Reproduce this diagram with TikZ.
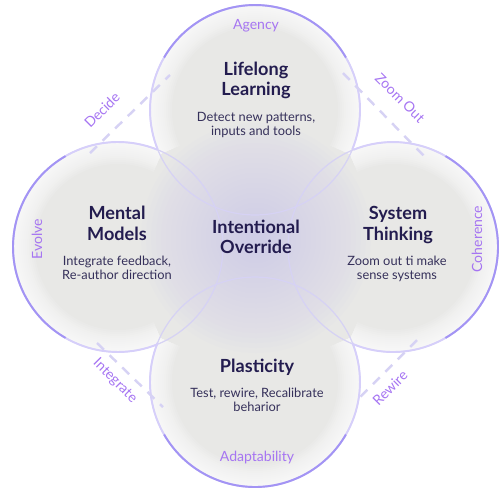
\documentclass[tikz,border=0pt]{standalone}
\usepackage{fontspec}
\setmainfont{Lato}
\usepackage{tikz}
\definecolor{titlecolor}{HTML}{231C4F}
\definecolor{textcolor}{HTML}{35305A}
\definecolor{cuecolor}{HTML}{A675F2}
\definecolor{rimcolor}{HTML}{A394F4}
\definecolor{softrim}{HTML}{D6D2F4}
\definecolor{discgray}{HTML}{E8E8E6}
\definecolor{glowcolor}{HTML}{CFCBEA}

\begin{document}
\begin{tikzpicture}[x=0.02cm, y=-0.02cm,
    lobe/.style={circle, minimum size=4.2cm, inner sep=0pt, outer sep=0pt, fill=discgray},
    rim/.style={draw=rimcolor, line width=1.1pt},
    softline/.style={draw=softrim, line width=0.7pt},
    bridge/.style={draw=softrim, line width=1.4pt, dash pattern=on 5.5pt off 4.5pt},
    heading/.style={font=\fontsize{10.3}{11.6}\selectfont\bfseries, text=titlecolor,
                    align=center, inner sep=0pt},
    blurb/.style={font=\fontsize{7.3}{8.2}\selectfont, text=textcolor,
                  align=center, inner sep=0pt},
    cue/.style={font=\fontsize{8}{9}\selectfont, text=cuecolor, inner sep=0pt}
]
\useasboundingbox (0,0) rectangle (500,495);

% the four lobes
\node[lobe] (learn) at (255,110) {};
\node[lobe] (model) at (118,247) {};
\node[lobe] (system) at (393,247) {};
\node[lobe] (plastic) at (255,382) {};
\fill[discgray] (256,238) circle[radius=1.2cm];

% light rims on the outside
\foreach \c/\a in {learn/90,model/180,system/0,plastic/270} {
    \begin{scope}
        \clip (\c.center) circle[radius=2.1cm];
        \foreach \w in {2,4,...,22}
            \draw[white, opacity=0.13, line width=\w*1.13pt] (\c.center) ++(\a-115:2.1cm)
                arc[start angle=\a-115, end angle=\a+115, radius=2.1cm];
    \end{scope}
}

% soft glow in the middle
\foreach \r in {10,15,...,115}
    \fill[glowcolor, opacity=0.05] (256,238) circle[radius=\r*0.02cm];

% outlines
\foreach \c in {learn,model,system,plastic}
    \draw[softline] (\c.center) circle[radius=2.1cm];
\foreach \c/\a in {learn/90,model/180,system/0,plastic/270} {
    \draw[rim, draw=rimcolor!45] (\c.center) ++(\a-112:2.1cm)
        arc[start angle=\a-112, end angle=\a+112, radius=2.1cm];
    \draw[rim] (\c.center) ++(\a-60:2.1cm)
        arc[start angle=\a-60, end angle=\a+60, radius=2.1cm];
}

% dashed bridges between lobes
\coordinate (decA) at (90,153);
\coordinate (decB) at (170,75);
\coordinate (zoomA) at (343,73);
\coordinate (zoomB) at (425,157);
\coordinate (intA) at (97,343);
\coordinate (intB) at (163,407);
\coordinate (rewA) at (417,340);
\coordinate (rewB) at (355,402);
\draw[bridge] (decA) -- (decB);
\draw[bridge] (zoomA) -- (zoomB);
\draw[bridge] (intA) -- (intB);
\draw[bridge] (rewA) -- (rewB);

% texts
\node[heading] (learnT) at (256,80.5) {Lifelong\\Learning};
\node[blurb] (learnD) at (256,124.7) {Detect new patterns,\\inputs and tools};
\node[heading] (modelT) at (117,223.3) {Mental\\Models};
\node[blurb] (modelD) at (117,268) {Integrate feedback,\\Re-author direction};
\node[heading] (coreT) at (256,237) {Intentional\\Override};
\node[heading] (systemT) at (398,225) {System\\Thinking};
\node[blurb] (systemD) at (397,269) {Zoom out ti make\\sense systems};
\node[heading] (plasticT) at (257,367) {Plasticity};
\node[blurb] (plasticD) at (257,399.6) {Test, rewire, Recalibrate\\beharior};

% labels
\node[cue, anchor=base] (agency) at (256,29) {Agency};
\node[cue, anchor=base] (adapt) at (257,461) {Adaptability};
\node[cue, rotate=90] (evolve) at (37,239) {Evolve};
\node[cue, rotate=90] (coher) at (477,239) {Coherence};
\node[cue, rotate=45] (decide) at (102,110) {Decide};
\node[cue, rotate=-45] (zoomout) at (400,98) {Zoom Out};
\node[cue, rotate=-45] (integ) at (115,381) {Integrate};
\node[cue, rotate=45] (rewire) at (390,388) {Rewire};
\end{tikzpicture}
\end{document}
